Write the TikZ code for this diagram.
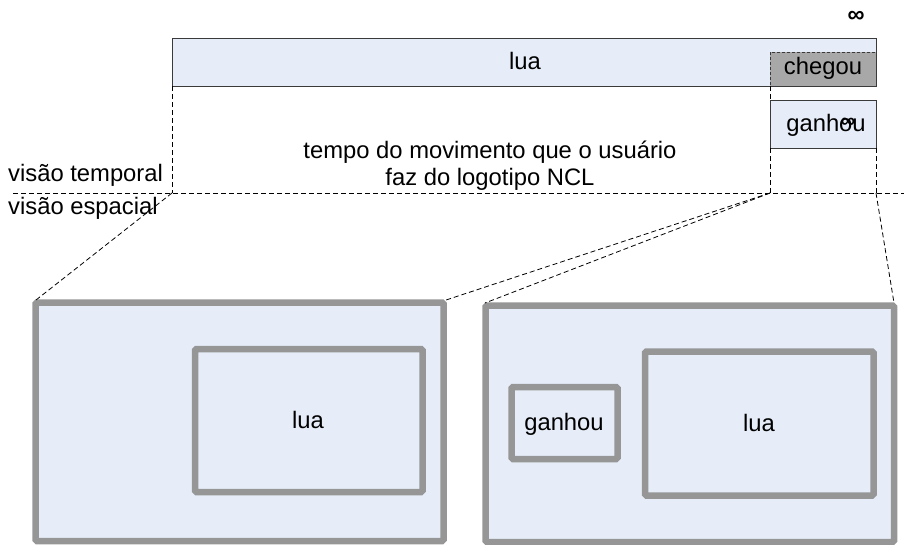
\documentclass[tikz,border=0pt]{standalone}
\usepackage{fontspec}
\setmainfont{Liberation Sans}
\definecolor{lblue}{HTML}{E6EDF8}
\definecolor{bgray}{HTML}{969696}
\definecolor{cgray}{HTML}{A8A8A8}
\definecolor{edge}{HTML}{3A3A3A}
\begin{document}
\begin{tikzpicture}[x=1pt,y=-1pt,
  txt/.style={inner sep=0pt,font=\fontsize{23.8}{28}\selectfont,anchor=base},
  tbar/.style={draw=edge,line width=1pt,fill=lblue},
  cbox/.style={draw=edge,line width=1pt,fill=cgray,dash pattern=on 3pt off 2pt},
  sbox/.style={draw=bgray,line width=6.5pt,fill=lblue,rounded corners=1.5pt},
  guide/.style={draw=black,line width=0.8pt,dash pattern=on 5pt off 3pt}]
\useasboundingbox (0,0) rectangle (904,544);
% timeline
\draw[tbar] (172,38) rectangle (876,86);
\node[txt] (lua) at (525,69) {lua};
\draw[cbox] (770,52) rectangle (876,86);
\node[txt] (chegou) at (823,74) {chegou};
\draw[tbar] (770,100) rectangle (876,148);
\node[txt] (ganhou) at (826,131) {ganhou};
\node[inner sep=0pt,font=\fontsize{20}{22}\selectfont\bfseries] (inf2) at (848,123) {∞};
\node[inner sep=0pt,font=\fontsize{23.8}{28}\selectfont\bfseries] (inf1) at (856,17) {∞};
\node[txt] (tempo1) at (490,158) {tempo do movimento que o usuário};
\node[txt] (tempo2) at (490,185) {faz do logotipo NCL};
\node[txt,anchor=base west] (vt) at (8,181) {visão temporal};
\node[txt,anchor=base west] (ve) at (8,214) {visão espacial};
% guides
\coordinate (h0) at (13,193);
\coordinate (h1) at (904,193);
\coordinate (a) at (172,193);
\coordinate (b) at (770,193);
\coordinate (c) at (876,193);
\draw[guide] (h0) -- (h1);
\draw[guide] (172,86) -- (a);
\draw[guide] (770,86) -- (770,100);
\draw[guide] (770,148) -- (b);
\draw[guide] (876,148) -- (c);
% spatial boxes
\draw[sbox] (35.5,302.5) rectangle (443.5,541);
\draw[sbox] (195,349) rectangle (422.5,492);
\node[txt] (lua2) at (308,428) {lua};
\draw[sbox] (485.5,305.5) rectangle (894,542);
\draw[sbox] (511.5,387) rectangle (617.5,459);
\node[txt] (ganhou2) at (564,430) {ganhou};
\draw[sbox] (645,351.5) rectangle (873.5,495.5);
\node[txt] (lua3) at (759,431) {lua};
\coordinate (l1) at (36,300);
\coordinate (l2) at (446,300);
\coordinate (r1) at (485,303);
\coordinate (r2) at (894,303);
\draw[guide] (a) -- (l1);
\draw[guide] (b) -- (l2);
\draw[guide] (b) -- (r1);
\draw[guide] (c) -- (r2);
\end{tikzpicture}
\end{document}
